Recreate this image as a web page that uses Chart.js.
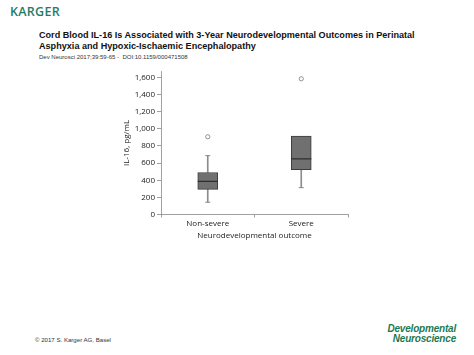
<!DOCTYPE html>
<html>
<head>
<meta charset="utf-8">
<script src="https://cdn.jsdelivr.net/npm/chart.js@4"></script>
<style>
html,body{margin:0;padding:0;background:#fff;width:474px;height:355px;overflow:hidden;position:relative;font-family:"Liberation Sans",Arial,sans-serif;}
#logo{position:absolute;left:10px;top:3px;font-family:"Open Sans",sans-serif;font-size:12.5px;font-weight:600;color:#1f7c6b;letter-spacing:0.3px;}
#title{position:absolute;left:39px;top:29.5px;font-size:9.1px;font-weight:bold;color:#111;line-height:11.5px;white-space:nowrap;}
#doi{position:absolute;left:39px;top:54px;font-size:6px;color:#333;white-space:nowrap;}
#copy{position:absolute;left:35px;top:336px;font-size:6.1px;color:#333;white-space:nowrap;}
#journal{position:absolute;right:18px;top:324px;font-size:10px;font-weight:bold;font-style:italic;color:#1d7a52;text-align:right;line-height:10px;letter-spacing:-0.2px;}
#wrap{position:absolute;left:100px;top:60px;width:260px;height:190px;}
</style>
</head>
<body>
<div id="logo">KARGER</div>
<div id="title">Cord Blood IL-16 Is Associated with 3-Year Neurodevelopmental Outcomes in Perinatal<br>Asphyxia and Hypoxic-Ischaemic Encephalopathy</div>
<div id="doi">Dev Neurosci 2017;39:59-65 -&nbsp; DOI:10.1159/000471508</div>
<div id="copy">© 2017 S. Karger AG, Basel</div>
<div id="journal">Developmental<br>&nbsp;&nbsp;&nbsp;&nbsp;Neuroscience</div>
<div id="wrap"><canvas id="c" width="260" height="190"></canvas></div>
<script>
const categories = ['Non-severe', 'Severe'];
const whiskerLow = [143, 313];
const q1 = [293, 522];
const median = [386, 649];
const q3 = [490, 916];
const whiskerHigh = [687, 916];
const outliers = [907, 1584];
const yTickStep = 200;
const yMax = 1670;
const xTitle = 'Neurodevelopmental outcome';
const yTitle = 'IL-16, pg/mL';

const boxData = categories.map((c, i) => [q1[i], q3[i]]);
const lowWhisker = categories.map((c, i) => [whiskerLow[i], q1[i]]);
const highWhisker = categories.map((c, i) => whiskerHigh[i] > q3[i] ? [q3[i], whiskerHigh[i]] : null);
const highCaps = categories.map((c, i) => whiskerHigh[i] > q3[i] ? whiskerHigh[i] : null);

const font = {family: '"Open Sans", sans-serif', size: 8};
const textColor = '#222';

new Chart(document.getElementById('c'), {
  type: 'bar',
  data: {
    labels: categories,
    datasets: [
      {type: 'line', data: median, showLine: false, pointStyle: 'line', pointRadius: 10, pointBorderWidth: 1.4, pointBorderColor: '#2e2e2e', order: 1},
      {type: 'bar', data: boxData, backgroundColor: '#707070', borderColor: '#3c3c3c', borderWidth: 1, borderSkipped: false, barThickness: 20, grouped: false, order: 2},
      {type: 'line', data: outliers, showLine: false, pointStyle: 'circle', pointRadius: 2.1, pointBorderWidth: 0.8, pointBackgroundColor: '#fff', pointBorderColor: '#777', order: 3},
      {type: 'line', data: whiskerLow, showLine: false, pointStyle: 'line', pointRadius: 2.5, pointBorderWidth: 1, pointBorderColor: '#888', order: 4},
      {type: 'line', data: highCaps, showLine: false, pointStyle: 'line', pointRadius: 2.5, pointBorderWidth: 1, pointBorderColor: '#888', order: 4},
      {type: 'bar', data: lowWhisker, backgroundColor: '#8c8c8c', borderWidth: 0, barThickness: 1, grouped: false, order: 5},
      {type: 'bar', data: highWhisker, backgroundColor: '#8c8c8c', borderWidth: 0, barThickness: 1, grouped: false, order: 5}
    ]
  },
  options: {
    responsive: false,
    animation: false,
    events: [],
    layout: {padding: {top: 10, right: 12, bottom: 0, left: 0}},
    plugins: {legend: {display: false}, tooltip: {enabled: false}, title: {display: false}},
    scales: {
      x: {
        offset: true,
        grid: {display: true, offset: true, drawOnChartArea: false, drawTicks: true, tickLength: 3, color: '#888', lineWidth: 0.8},
        border: {display: true, color: '#888', width: 0.8},
        ticks: {font: font, color: textColor, padding: 1},
        title: {display: true, text: xTitle, font: font, color: textColor, padding: {top: 0, bottom: 9}},
        afterFit: (s) => { s.height = 35.5; }
      },
      y: {
        min: 0, max: yMax,
        grid: {display: true, drawOnChartArea: false, drawTicks: true, tickLength: 4, color: '#888', lineWidth: 0.8},
        border: {display: true, color: '#888', width: 0.8},
        ticks: {stepSize: yTickStep, includeBounds: false, font: font, color: textColor, padding: 2,
          callback: (v) => v.toLocaleString('en-US')},
        afterBuildTicks: (s) => { s.ticks = s.ticks.filter(t => t.value % yTickStep === 0); },
        title: {display: true, text: yTitle, font: font, color: textColor, padding: {top: 22, bottom: 0}},
        afterFit: (s) => { s.width = 61; }
      }
    }
  }
});
</script>
</body>
</html>
